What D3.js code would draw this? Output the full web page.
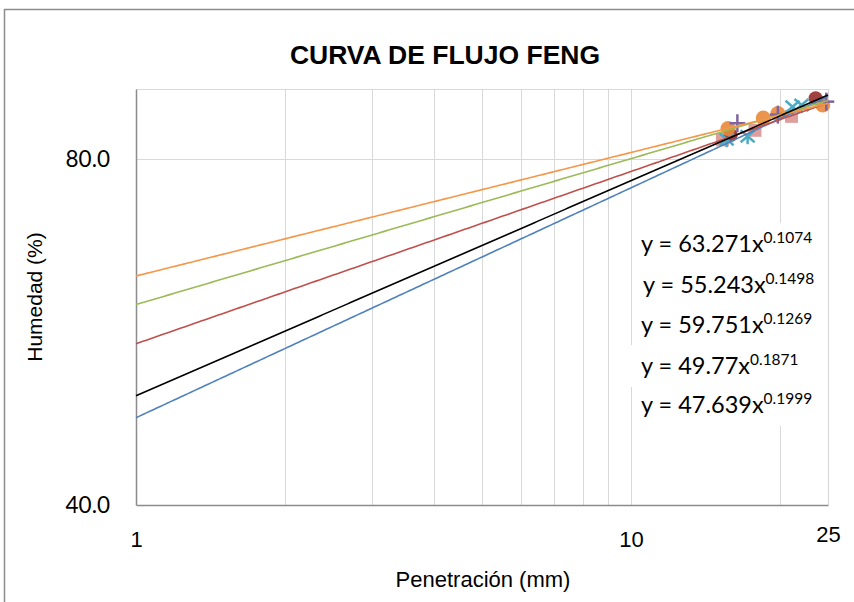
<!DOCTYPE html>
<html>
<head>
<meta charset="utf-8">
<script src="https://cdn.jsdelivr.net/npm/d3@7/dist/d3.min.js"></script>
<style>
  html, body { margin: 0; padding: 0; background: #fff; }
  svg { display: block; }
</style>
</head>
<body>
<svg id="chart" width="854" height="602"></svg>
<script>
// ---------------- DATA ----------------
const chartTitle = "CURVA DE FLUJO FENG";
const xTitle = "Penetración (mm)";
const yTitle = "Humedad (%)";
const xDomain = [1, 25];
const yDomain = [40, 92];
const xTickValues = [1, 10, 25];
const yTickValues = [40, 80];
const xGridValues = [2, 3, 4, 5, 6, 7, 8, 9, 10, 20];

// trend lines (power fits shown on the chart)
const trendCoef = [63.271, 55.243, 59.751, 49.77, 47.639];
const trendExp  = [0.1074, 0.1498, 0.1269, 0.1871, 0.1999];

// measured points
const starX   = [15.6, 17.2, 21.2, 22.1];
const starY   = [83.2, 83.7, 88.8, 89.1];
const squareX = [15.3, 17.8, 21.1];
const squareY = [83.1, 84.7, 87.1];
const darkCircleX = [15.9, 23.6];
const darkCircleY = [83.9, 90.3];
const plusX   = [16.4, 19.8, 24.8];
const plusY   = [85.9, 87.4, 89.7];
const circleX = [15.7, 18.5, 19.8, 24.4];
const circleY = [85.0, 86.8, 87.6, 89.1];

// ---------------- STYLE ----------------
const trendColors = ["#F79646", "#C0504D", "#9BBB59", "#000000", "#4F81BD"];
const trendDrawOrder = [4, 1, 2, 0, 3];

const svg = d3.select("#chart");
const plot = { left: 136, right: 828, top: 89, bottom: 505 };

const x = d3.scaleLog().domain(xDomain).range([plot.left, plot.right]);
const y = d3.scaleLog().base(2).domain(yDomain).range([plot.bottom, plot.top]);

// chart border (left + top visible)
svg.append("line").attr("x1", 4.5).attr("x2", 4.5).attr("y1", 9).attr("y2", 602)
  .attr("stroke", "#8c8c8c").attr("stroke-width", 1.5);
svg.append("line").attr("x1", 4).attr("x2", 854).attr("y1", 9.5).attr("y2", 9.5)
  .attr("stroke", "#8c8c8c").attr("stroke-width", 1.5);

// title
svg.append("text").attr("x", 445).attr("y", 64)
  .attr("text-anchor", "middle")
  .attr("font-family", "'Liberation Sans', Arial, sans-serif")
  .attr("font-weight", "bold").attr("font-size", 26.5)
  .attr("fill", "#000").text(chartTitle);

// gridlines
const grid = svg.append("g");
grid.selectAll("line.vg").data(xGridValues).join("line")
  .attr("x1", d => Math.round(x(d)) + 0.5).attr("x2", d => Math.round(x(d)) + 0.5)
  .attr("y1", plot.top).attr("y2", plot.bottom)
  .attr("stroke", "#d9d9d9").attr("stroke-width", 1);
grid.append("line").attr("x1", plot.left)
  .attr("x2", plot.right).attr("y1", Math.round(y(80)) + 0.5).attr("y2", Math.round(y(80)) + 0.5)
  .attr("stroke", "#d9d9d9").attr("stroke-width", 1.2);
// plot border top & right
grid.append("line").attr("x1", plot.left).attr("x2", plot.right)
  .attr("y1", plot.top + 0.5).attr("y2", plot.top + 0.5)
  .attr("stroke", "#d9d9d9").attr("stroke-width", 1.2);
grid.append("line").attr("x1", plot.right + 0.5).attr("x2", plot.right + 0.5)
  .attr("y1", plot.top).attr("y2", plot.bottom)
  .attr("stroke", "#d9d9d9").attr("stroke-width", 1.2);

// axes
const xAxis = d3.axisBottom(x).tickValues(xTickValues).tickFormat(d3.format("d")).tickSize(0).tickPadding(26);
const yAxis = d3.axisLeft(y).tickValues(yTickValues).tickFormat(d3.format(".1f")).tickSize(0).tickPadding(26);

const gx = svg.append("g").attr("transform", `translate(0,${plot.bottom})`).call(xAxis);
gx.select(".domain").attr("stroke", "#8c8c8c").attr("stroke-width", 1.5);
gx.selectAll("text").attr("font-family", "'Liberation Sans', Arial, sans-serif")
  .attr("font-size", 22).attr("fill", "#000");
gx.selectAll(".tick").filter(d => d === 25).select("text").attr("y", 21);

const gy = svg.append("g").attr("transform", `translate(${plot.left},0)`).call(yAxis);
gy.select(".domain").attr("stroke", "#8c8c8c").attr("stroke-width", 1.5);
gy.selectAll("text").attr("font-family", "Lato, 'Open Sans', sans-serif")
  .attr("font-size", 22.5).attr("fill", "#000");

// axis titles
svg.append("text").attr("x", 483).attr("y", 587).attr("text-anchor", "middle")
  .attr("font-family", "'Liberation Sans', Arial, sans-serif").attr("font-size", 22)
  .attr("fill", "#000").text(xTitle);
svg.append("text").attr("transform", "translate(42,297) rotate(-90)").attr("text-anchor", "middle")
  .attr("font-family", "'Liberation Sans', Arial, sans-serif").attr("font-size", 21)
  .attr("fill", "#000").text(yTitle);

// markers
const markers = svg.append("g");
const pts = (xs, ys) => xs.map((v, i) => [v, ys[i]]);

markers.selectAll("rect.sq").data(pts(squareX, squareY)).join("rect")
  .attr("x", d => x(d[0]) - 6.5).attr("y", d => y(d[1]) - 6.5)
  .attr("width", 13).attr("height", 13)
  .attr("fill", "#C0504D").attr("fill-opacity", 0.55);

markers.selectAll("circle.dk").data(pts(darkCircleX, darkCircleY)).join("circle")
  .attr("cx", d => x(d[0])).attr("cy", d => y(d[1])).attr("r", 7)
  .attr("fill", "#A0423F");

const star = markers.selectAll("g.star").data(pts(starX, starY)).join("g")
  .attr("transform", d => `translate(${x(d[0])},${y(d[1])})`)
  .attr("stroke", "#4BACC6").attr("stroke-width", 2.5);
star.append("line").attr("x1", -7).attr("y1", -6).attr("x2", 7).attr("y2", 6);
star.append("line").attr("x1", -7).attr("y1", 6).attr("x2", 7).attr("y2", -6);
star.append("line").attr("x1", 0).attr("y1", 0).attr("x2", 0).attr("y2", 8);

markers.selectAll("circle.or").data(pts(circleX, circleY)).join("circle")
  .attr("cx", d => x(d[0])).attr("cy", d => y(d[1])).attr("r", 7.5)
  .attr("fill", "#E8883A").attr("fill-opacity", 0.9);

const plus = markers.selectAll("g.plus").data(pts(plusX, plusY)).join("g")
  .attr("transform", d => `translate(${x(d[0])},${y(d[1])})`)
  .attr("stroke", "#8064A2").attr("stroke-width", 2.5);
plus.append("line").attr("x1", 0).attr("y1", -9).attr("x2", 0).attr("y2", 9);
plus.append("line").attr("x1", -8).attr("y1", 0).attr("x2", 8).attr("y2", 0);

// trend lines
const sampleX = d3.range(0, 201).map(i => Math.pow(10, Math.log10(xDomain[0]) + i / 200 * (Math.log10(xDomain[1]) - Math.log10(xDomain[0]))));
const line = d3.line().x(d => x(d[0])).y(d => y(d[1]));
const trends = svg.append("g").attr("fill", "none");
trendDrawOrder.forEach(i => {
  const data = sampleX.map(v => [v, trendCoef[i] * Math.pow(v, trendExp[i])]);
  trends.append("path").attr("d", line(data))
    .attr("stroke", trendColors[i]).attr("stroke-width", 1.6);
});

// equation labels
const eqBaselines = [252, 293, 333, 374, 413];
const eqX = [641, 643, 641, 641, 641];
const labels = svg.append("g");
trendCoef.forEach((c, i) => {
  const top = eqBaselines[i] - 29;
  labels.append("rect")
    .attr("x", i === 3 ? 628 : 636).attr("y", top)
    .attr("width", i === 3 ? 194 : 186).attr("height", 42)
    .attr("fill", "#fff");
});
trendCoef.forEach((c, i) => {
  const t = labels.append("text").attr("x", eqX[i]).attr("y", eqBaselines[i])
    .attr("font-family", "Lato, 'Open Sans', sans-serif").attr("font-size", 23.5).attr("fill", "#000");
  t.append("tspan").text(`y = ${c}x`);
  t.append("tspan").attr("dy", -9).attr("font-size", 15.5).text(String(trendExp[i]));
});
</script>
</body>
</html>
